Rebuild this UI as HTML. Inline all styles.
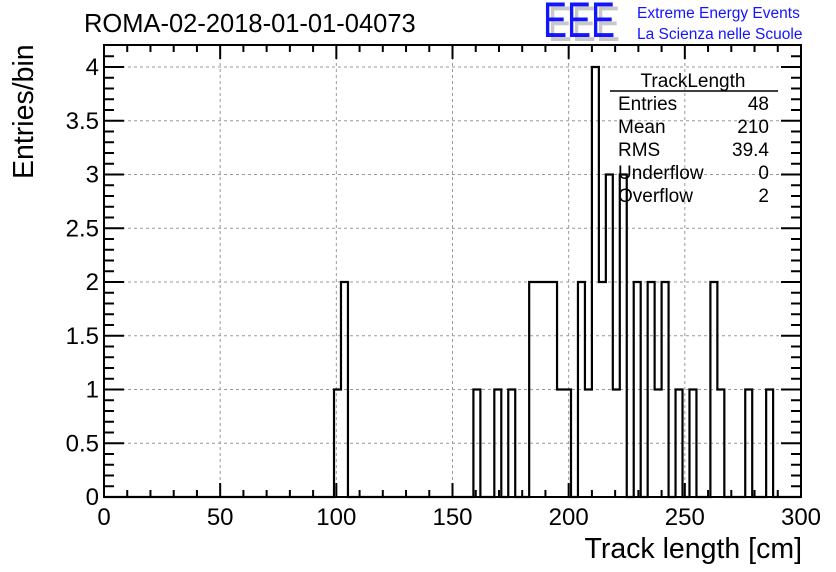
<!DOCTYPE html>
<html><head><meta charset="utf-8"><style>
body{margin:0;background:#fff}
svg{display:block;font-family:"Liberation Sans",Arial,sans-serif}
</style></head><body>
<svg id="c" width="836" height="572" viewBox="0 0 836 572">
<rect width="836" height="572" fill="#fff"/>
<text x="84" y="32" font-size="25.5">ROMA-02-2018-01-01-04073</text>
<g>
<text transform="translate(548,41) scale(0.72,1)" font-size="50" fill="#c8c8c8">EEE</text>
<text transform="translate(543,37) scale(0.72,1)" font-size="50" fill="#1414ff">EEE</text>
<text x="637" y="18" font-size="15.5" fill="#1414ff">Extreme Energy Events</text>
<text x="637" y="39" font-size="15.5" fill="#1414ff">La Scienza nelle Scuole</text>
</g>
<g id="grid"></g>
<g id="hist"></g>
<g id="axes"></g>
<text x="802" y="558" font-size="28.5" text-anchor="end">Track length [cm]</text>
<text transform="translate(33,179) rotate(-90)" font-size="28.5" text-anchor="start">Entries/bin</text>
<g font-size="19">
<text x="693" y="87" text-anchor="middle">TrackLength</text>
<line x1="610" y1="91" x2="778" y2="91" stroke="#000" stroke-width="1.5"/>
<text x="618" y="110">Entries</text><text x="769" y="110" text-anchor="end">48</text>
<text x="618" y="133">Mean</text><text x="769" y="133" text-anchor="end">210</text>
<text x="618" y="156">RMS</text><text x="769" y="156" text-anchor="end">39.4</text>
<text x="618" y="179">Underflow</text><text x="769" y="179" text-anchor="end">0</text>
<text x="618" y="202">Overflow</text><text x="769" y="202" text-anchor="end">2</text>
</g>
</svg>
<script>
const binLows=[99,102,159,168,174,183,186,189,192,195,198,204,207,210,213,216,219,222,228,234,237,240,246,252,261,264,276,285];
const binCounts=[1,2,1,1,1,2,2,2,2,1,1,2,1,4,2,3,1,3,2,2,1,2,1,1,2,1,1,1];
const xTickLabels=["0","50","100","150","200","250","300"];
const yTickLabels=["0","0.5","1","1.5","2","2.5","3","3.5","4"];
const binWidth=3;
const L=104,R=801,T=45,B=497;
const X=v=>L+(v/300)*(R-L);
const Y=v=>B-v*107.5;
const NS="http://www.w3.org/2000/svg";
function mk(tag,attrs,parent){const e=document.createElementNS(NS,tag);for(const k in attrs)e.setAttribute(k,attrs[k]);parent.appendChild(e);return e;}
const grid=document.getElementById('grid'),hist=document.getElementById('hist'),axes=document.getElementById('axes');
xTickLabels.forEach(t=>{const v=+t;if(v>0&&v<300){const l=mk('line',{x1:X(v),x2:X(v),y1:T,y2:B,stroke:'#999','stroke-dasharray':'3,3','stroke-width':1},grid);

}});
yTickLabels.forEach(t=>{const v=+t;if(v>0){const l=mk('line',{x1:L,x2:R,y1:Y(v),y2:Y(v),stroke:'#999','stroke-dasharray':'3,3','stroke-width':1},grid);

}});
const counts=new Array(100).fill(0);
binLows.forEach((lo,i)=>{counts[Math.round(lo/binWidth)]=binCounts[i];});
let d=`M${X(0)},${Y(0)}`;
for(let i=0;i<100;i++){d+=` L${X(i*binWidth)},${Y(counts[i])} L${X((i+1)*binWidth)},${Y(counts[i])}`;}
const p=mk('path',{d:d,fill:'none',stroke:'#000','stroke-width':2.2},hist);


const f=mk('rect',{x:L,y:T,width:R-L,height:B-T,fill:'none',stroke:'#000','stroke-width':2},axes);


for(let v=0;v<=300;v+=10){const len=v%50===0?14:7;
mk('line',{x1:X(v),x2:X(v),y1:B,y2:B-len,stroke:'#000','stroke-width':2},axes);
mk('line',{x1:X(v),x2:X(v),y1:T,y2:T+len,stroke:'#000','stroke-width':2},axes);}
xTickLabels.forEach(t=>{const tx=mk('text',{x:X(+t),y:525,'font-size':24,'text-anchor':'middle'},axes);tx.textContent=t;

});
for(let k=0;k<=41;k++){const v=k/10;const len=k%5===0?20:10;
mk('line',{x1:L,x2:L+len,y1:Y(v),y2:Y(v),stroke:'#000','stroke-width':2},axes);
mk('line',{x1:R,x2:R-len,y1:Y(v),y2:Y(v),stroke:'#000','stroke-width':2},axes);}
yTickLabels.forEach(t=>{const tx=mk('text',{x:99,y:Y(+t)+8,'font-size':24,'text-anchor':'end'},axes);tx.textContent=t;

});
</script>
</body></html>
